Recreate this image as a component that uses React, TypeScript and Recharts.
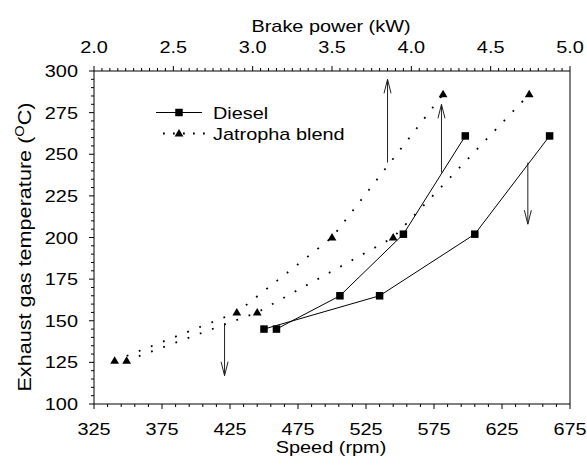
import React from "react"
import { ScatterChart, Scatter, XAxis, YAxis, ReferenceLine } from "recharts"

// Exhaust gas temperature against brake power (top axis) and speed (bottom axis)
const dieselPowerKw = [3.15, 3.55, 3.95, 4.34]
const dieselSpeedRpm = [450, 535, 605, 660]
const dieselTemp = [145, 165, 202, 261]

const jatrophaPowerKw = [2.13, 2.9, 3.5, 4.2]
const jatrophaSpeedRpm = [349, 445, 545, 645]
const jatrophaTemp = [126, 155, 200, 286]

// arrows point from each curve towards the axis it is read against
const arrowAxis = ["power", "power", "speed", "speed"]
const arrowAt = [3.85, 4.19, 644, 421]
const arrowFrom = [245, 239, 245, 148.5]
const arrowTo = [295, 280, 208, 117]

const speedMajorTicks = [325, 375, 425, 475, 525, 575, 625, 675]
const powerMajorTicks = [2.0, 2.5, 3.0, 3.5, 4.0, 4.5, 5.0]
const tempMajorTicks = [100, 125, 150, 175, 200, 225, 250, 275, 300]

const steps = (from: number, to: number, step: number) => {
  const out: number[] = []
  const n = Math.round((to - from) / step)
  for (let i = 0; i <= n; i++) out.push(Math.round((from + i * step) * 1000) / 1000)
  return out
}
const speedTicks = steps(325, 675, 10)
const powerTicks = steps(2, 5, 0.05)
const tempTicks = steps(100, 300, 5)

const isMajor = (v: number, majors: number[]) => majors.some((m) => Math.abs(m - v) < 1e-6)

const toPoints = (xs: number[], ys: number[]) => xs.map((x, i) => ({ x, y: ys[i] }))
const dieselByPower = toPoints(dieselPowerKw, dieselTemp)
const dieselBySpeed = toPoints(dieselSpeedRpm, dieselTemp)
const jatrophaByPower = toPoints(jatrophaPowerKw, jatrophaTemp)
const jatrophaBySpeed = toPoints(jatrophaSpeedRpm, jatrophaTemp)

const FONT = "'Liberation Sans', Arial, Helvetica, sans-serif"
const SX = 1.17
const DOTTED = "1.8 11.2"

function Txt({ x, y, size = 17, anchor = "middle", rotate = 0, children }: any) {
  return (
    <text
      transform={`translate(${x},${y})${rotate ? ` rotate(${rotate})` : ""} scale(${SX},1)`}
      textAnchor={anchor}
      fontFamily={FONT}
      fontSize={size}
      fill="#000"
    >
      {children}
    </text>
  )
}

const Square = ({ cx, cy }: any) => <rect x={cx - 3.75} y={cy - 3.75} width={7.5} height={7.5} fill="#000" />
const Triangle = ({ cx, cy }: any) => (
  <polygon points={`${cx},${cy - 4.5} ${cx + 4.4},${cy + 3} ${cx - 4.4},${cy + 3}`} fill="#000" />
)

const SpeedTick = ({ x, y, payload }: any) => {
  const major = isMajor(payload.value, speedMajorTicks)
  return (
    <g>
      <line x1={x} x2={x} y1={y} y2={y + (major ? 5 : 3)} stroke="#000" />
      {major && <Txt x={x} y={y + 30.5}>{payload.value}</Txt>}
    </g>
  )
}

const PowerTick = ({ x, y, payload }: any) => {
  const major = isMajor(payload.value, powerMajorTicks)
  return (
    <g>
      <line x1={x} x2={x} y1={y} y2={y - (major ? 5 : 3)} stroke="#000" />
      {major && <Txt x={x} y={y - 18.5}>{payload.value.toFixed(1)}</Txt>}
    </g>
  )
}

const TempTick = ({ x, y, payload }: any) => {
  const major = isMajor(payload.value, tempMajorTicks)
  return (
    <g>
      <line x1={x - (major ? 5 : 3)} x2={x} y1={y} y2={y} stroke="#000" />
      {major && <Txt x={x - 16} y={y + 6} anchor="end">{payload.value}</Txt>}
    </g>
  )
}

const ArrowShape = (props: any) => {
  const { x1, y1, x2, y2 } = props
  const dir = y2 < y1 ? -1 : 1
  return (
    <g stroke="#222" strokeWidth={1} fill="none">
      <line x1={x1} y1={y1} x2={x2} y2={y2} />
      <polyline points={`${x2 - 3.5},${y2 - dir * 14} ${x2},${y2} ${x2 + 3.5},${y2 - dir * 14}`} />
    </g>
  )
}

function Legend() {
  return (
    <svg width={587} height={465} style={{ position: "absolute", left: 0, top: 0, pointerEvents: "none" }}>
      <line x1={156} x2={202} y1={112.5} y2={112.5} stroke="#000" />
      <Square cx={179} cy={112.5} />
      <Txt x={213} y={118.5} anchor="start">Diesel</Txt>
      <line x1={163} x2={205} y1={133.5} y2={133.5} stroke="#000" strokeWidth={1.8} strokeDasharray="1.8 8.2" />
      <Triangle cx={179} cy={133.5} />
      <Txt x={213} y={139.5} anchor="start">Jatropha blend</Txt>
    </svg>
  )
}

export default function App() {
  return (
    <div style={{ position: "absolute", left: 0, top: 0, width: 587, height: 465, background: "#fff" }}>
      <ScatterChart width={587} height={465} margin={{ top: 31, right: 17, bottom: 21, left: 34 }}>
        <XAxis
          xAxisId="speed"
          orientation="bottom"
          type="number"
          dataKey="x"
          domain={[325, 675]}
          ticks={speedTicks}
          interval={0}
          height={40}
          tickSize={0}
          tickMargin={0}
          tickLine={false}
          axisLine={{ stroke: "#000" }}
          tick={<SpeedTick />}
          label={({ viewBox }: any) => (
            <Txt x={viewBox.x + viewBox.width / 2 - 1} y={viewBox.y + 48.5}>Speed (rpm)</Txt>
          )}
        />
        <XAxis
          xAxisId="power"
          orientation="top"
          type="number"
          dataKey="x"
          domain={[2, 5]}
          ticks={powerTicks}
          interval={0}
          height={40}
          tickSize={0}
          tickMargin={0}
          tickLine={false}
          axisLine={{ stroke: "#000" }}
          tick={<PowerTick />}
          label={({ viewBox }: any) => (
            <Txt x={viewBox.x + viewBox.width / 2 - 1} y={viewBox.y + viewBox.height - 39.5}>Brake power (kW)</Txt>
          )}
        />
        <YAxis
          type="number"
          dataKey="y"
          domain={[100, 300]}
          ticks={tempTicks}
          interval={0}
          width={60}
          tickSize={0}
          tickMargin={0}
          tickLine={false}
          axisLine={{ stroke: "#000" }}
          tick={<TempTick />}
          label={({ viewBox }: any) => (
            <text
              transform={`translate(${viewBox.x - 3},${viewBox.y + viewBox.height / 2 + 9.5}) rotate(-90) scale(${SX},1)`}
              textAnchor="middle"
              fontFamily={FONT}
              fontSize={18.5}
              fill="#000"
            >
              Exhaust gas temperature (
              <tspan fontSize={12.5} dy={-7}>O</tspan>
              <tspan dy={7}>C)</tspan>
            </text>
          )}
        />

        <ReferenceLine xAxisId="speed" x={675} stroke="#808080" strokeWidth={2} />

        <Scatter
          name="Diesel"
          xAxisId="power"
          data={dieselByPower}
          line={{ stroke: "#000", strokeWidth: 1 }}
          lineType="joint"
          shape={<Square />}
          isAnimationActive={false}
        />
        <Scatter
          name="Diesel"
          xAxisId="speed"
          data={dieselBySpeed}
          line={{ stroke: "#000", strokeWidth: 1 }}
          lineType="joint"
          shape={<Square />}
          isAnimationActive={false}
        />
        <Scatter
          name="Jatropha blend"
          xAxisId="power"
          data={jatrophaByPower}
          line={{ stroke: "#000", strokeWidth: 1.8, strokeDasharray: DOTTED }}
          lineType="joint"
          shape={<Triangle />}
          isAnimationActive={false}
        />
        <Scatter
          name="Jatropha blend"
          xAxisId="speed"
          data={jatrophaBySpeed}
          line={{ stroke: "#000", strokeWidth: 1.8, strokeDasharray: DOTTED }}
          lineType="joint"
          shape={<Triangle />}
          isAnimationActive={false}
        />

        {arrowAt.map((at, i) => (
          <ReferenceLine
            key={i}
            xAxisId={arrowAxis[i]}
            segment={[
              { x: at, y: arrowFrom[i] },
              { x: at, y: arrowTo[i] },
            ]}
            shape={ArrowShape}
          />
        ))}
      </ScatterChart>
      <Legend />
    </div>
  )
}
